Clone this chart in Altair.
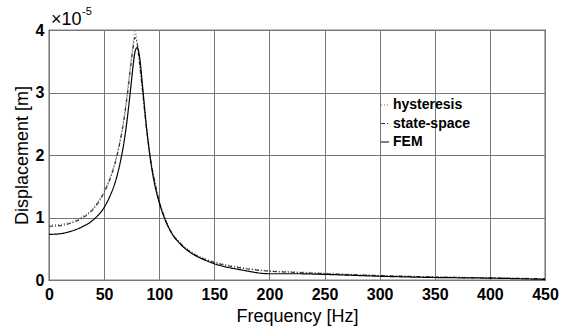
import altair as alt
import pandas as pd

freq = [0, 10, 20, 30, 40, 50, 55, 60, 64, 68, 71, 74, 76, 78, 80, 82, 85, 88, 92, 96,
        100, 105, 110, 120, 130, 140, 150, 175, 200, 225, 250, 300, 350, 400, 450]
hysteresis = [0.88, 0.89, 0.93, 1.01, 1.15, 1.42, 1.62, 1.9, 2.2, 2.6, 3.0, 3.45, 3.75, 3.97,
              3.82, 3.5, 3.0, 2.5, 1.95, 1.58, 1.27, 1.0, 0.8, 0.58, 0.44, 0.35, 0.29, 0.2,
              0.15, 0.13, 0.11, 0.075, 0.05, 0.035, 0.02]
state_space = [0.86, 0.87, 0.91, 0.99, 1.13, 1.4, 1.6, 1.87, 2.17, 2.56, 2.95, 3.4, 3.68, 3.88,
               3.78, 3.48, 3.0, 2.5, 1.95, 1.57, 1.26, 0.99, 0.79, 0.57, 0.43, 0.34, 0.28, 0.19,
               0.14, 0.12, 0.1, 0.07, 0.048, 0.033, 0.02]
fem = [0.73, 0.74, 0.78, 0.85, 0.96, 1.16, 1.33, 1.56, 1.83, 2.2, 2.58, 3.05, 3.38, 3.65,
       3.72, 3.59, 3.08, 2.52, 1.93, 1.52, 1.24, 0.98, 0.79, 0.56, 0.42, 0.33, 0.26, 0.16,
       0.1, 0.1, 0.09, 0.06, 0.04, 0.03, 0.01]

series_names = ["hysteresis", "state-space", "FEM"]
x_ticks = [0, 50, 100, 150, 200, 250, 300, 350, 400, 450]
y_ticks = [0, 1, 2, 3, 4]

rows = []
for name, vals in zip(series_names, [hysteresis, state_space, fem]):
    for f, v in zip(freq, vals):
        rows.append({"f": f, "d": v, "series": name})
df = pd.DataFrame(rows)

FONT = "Liberation Sans"

lines = alt.Chart(df).mark_line(interpolate="monotone").encode(
    x=alt.X("f:Q", scale=alt.Scale(domain=[0, 450], nice=False),
            axis=alt.Axis(values=x_ticks, title="Frequency [Hz]", grid=True, labelFlush=False)),
    y=alt.Y("d:Q", scale=alt.Scale(domain=[0, 4], nice=False),
            axis=alt.Axis(values=y_ticks, title="Displacement [m]", grid=True)),
    color=alt.Color("series:N", scale=alt.Scale(domain=series_names,
                                                range=["#777777", "#333333", "#000000"]),
                    legend=alt.Legend(title=None, orient="none", legendX=329, legendY=68,
                                      symbolType="stroke", symbolSize=64,
                                      labelFont=FONT, labelFontSize=14, labelFontWeight="bold",
                                      labelColor="black", rowPadding=4.5, labelOffset=1,
                                      symbolStrokeWidth=1.5)),
    strokeDash=alt.StrokeDash("series:N", scale=alt.Scale(domain=series_names,
                                                          range=[[1, 2], [4, 2, 1, 2], [1, 0]]),
                              legend=None),
    strokeWidth=alt.StrokeWidth("series:N", scale=alt.Scale(domain=series_names,
                                                            range=[1.2, 1.2, 2]),
                                legend=None),
)

exp_base = alt.Chart(pd.DataFrame({"t": ["\u00d710"]})).mark_text(
    align="left", baseline="alphabetic", font=FONT, fontSize=18, color="black"
).encode(x=alt.value(2), y=alt.value(-5), text="t:N")
exp_pow = alt.Chart(pd.DataFrame({"t": ["-5"]})).mark_text(
    align="left", baseline="alphabetic", font=FONT, fontSize=11, color="black"
).encode(x=alt.value(33), y=alt.value(-15), text="t:N")

chart = alt.layer(lines, exp_base, exp_pow).properties(
    width=496, height=250,
    autosize=alt.AutoSizeParams(type="none"),
    padding={"left": 49, "top": 30, "right": 23, "bottom": 50},
).configure_view(stroke="black", strokeWidth=1.2).configure_axis(
    labelFont=FONT, labelFontSize=16, labelFontWeight="bold", labelColor="black",
    titleFont=FONT, titleFontSize=18, titleFontWeight="normal", titleColor="black",
    gridColor="#777777", gridWidth=1, gridOpacity=1,
    domain=False, ticks=False,
).configure_axisX(labelPadding=6, titlePadding=5).configure_axisY(
    labelPadding=5, titlePadding=4
)

chart.save("out.html", embed_options={"renderer": "svg", "actions": False})
